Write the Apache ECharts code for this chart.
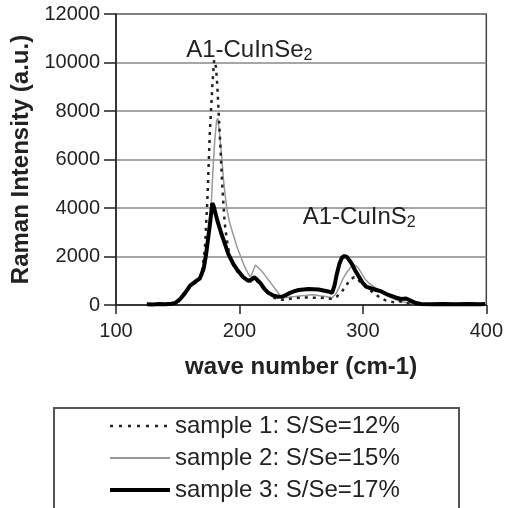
<!DOCTYPE html>
<html>
<head>
<meta charset="utf-8">
<script src="https://cdn.jsdelivr.net/npm/echarts@6/dist/echarts.min.js"></script>
<style>
html,body{margin:0;padding:0;background:#fff;}
#chart{width:506px;height:508px;}
</style>
</head>
<body>
<div id="chart"></div>
<script>
// ---- data ----
var seriesNames = ['sample 1: S/Se=12%', 'sample 2: S/Se=15%', 'sample 3: S/Se=17%'];
var xTicks = [100, 200, 300, 400];
var yTicks = [0, 2000, 4000, 6000, 8000, 10000, 12000];
var annotations = [
  {main: 'A1-CuInSe', sub: '2', x: 208, y: 10500},
  {main: 'A1-CuInS', sub: '2', x: 297, y: 3600}
];

var s1Wave = [125,135,145,150,155,160,165,168,170,172,174,176,178,179.5,181,182,184,186,188,189.5,192,195,198,202,206,210,214,218,222,226,230,235,240,245,250,255,260,265,270,275,279,283,287,290,293,296,299,302,306,310,314,318,322,326,330,334,340,350,370,399];
var s1Int  = [30,30,40,100,400,750,950,1100,1500,2300,4300,7100,9000,10100,9800,9100,7100,5000,3400,2800,2000,1650,1400,1200,1050,950,1000,800,550,350,250,220,250,280,300,310,300,300,280,250,350,550,850,1050,1150,1050,900,750,600,450,300,200,150,100,150,80,40,30,20,20];

var s2Wave = [125,135,145,150,155,160,165,170,173,175,177,178.5,180,181.5,182.5,184,185.5,187,188.5,190,192,195,198,201,204,207,209,211,213,215,218,221,224,227,230,233,237,241,245,250,255,260,265,270,275,278,281,284,287,290,293,296,299,302,305,309,313,317,321,325,330,335,340,350,360,380,399];
var s2Int  = [30,30,50,150,450,750,950,1200,1800,2700,4000,5500,6800,7600,7700,7000,6200,5200,4500,3900,3400,2900,2400,2000,1600,1300,1150,1400,1650,1550,1400,1200,1000,800,600,380,300,330,350,380,400,420,380,350,300,450,750,1100,1350,1550,1650,1550,1300,1050,900,750,600,480,350,250,150,100,60,30,20,30,20];

var s3Wave = [125,130,135,140,145,148,152,156,160,164,168,171,173,175,176.5,178,179,180,182,185,188,191,195,199,203,207,210,212,214,217,220,223,227,231,235,238,241,244,248,252,256,260,264,268,272,275,277,279,281,283,285,287,289,291,294,297,300,303,307,311,315,319,323,327,331,335,339,343,347,355,365,375,385,395,399];
var s3Int  = [30,20,40,30,50,80,250,500,800,950,1100,1500,2100,2900,3500,4200,4100,3900,3500,3000,2550,2100,1700,1400,1150,1000,1050,1150,1050,900,680,520,400,340,350,420,500,560,620,640,660,650,640,600,560,500,800,1300,1700,1950,2020,1980,1850,1700,1400,1150,900,750,680,620,560,450,380,300,250,270,170,80,40,30,40,30,40,30,40];

function zip(xs, ys) { return xs.map(function (x, i) { return [x, ys[i]]; }); }

var FONT = '"Liberation Sans", Arial, sans-serif';
var chart = echarts.init(document.getElementById('chart'), null, {renderer: 'canvas'});

var lineStyles = [
  {color: '#222', width: 2.5, type: [3, 5]},
  {color: '#999', width: 1.5},
  {color: '#000', width: 4}
];

var annLabel = {
  show: true,
  position: 'inside',
  formatter: function (p) { return p.name; },
  color: '#222',
  fontFamily: FONT,
  rich: {
    m: {fontSize: 24, fontFamily: FONT, color: '#222', lineHeight: 30},
    s: {fontSize: 16, fontFamily: FONT, color: '#222', lineHeight: 30, padding: [10, 0, 0, 0]}
  }
};

chart.setOption({
  animation: false,
  backgroundColor: '#fff',
  textStyle: {fontFamily: FONT},
  grid: {left: 116, right: 18, top: 14, bottom: 203, show: true, borderColor: '#444', borderWidth: 1.5, containLabel: false},
  graphic: [{
    type: 'rect', left: 53, top: 407, z: -1,
    shape: {width: 405, height: 130},
    style: {fill: '#fff', stroke: '#555', lineWidth: 2}
  }],
  xAxis: {
    type: 'value', min: xTicks[0], max: xTicks[xTicks.length - 1], interval: 100,
    name: 'wave number (cm-1)', nameLocation: 'middle', nameGap: 50,
    nameTextStyle: {fontSize: 24, fontWeight: 'bold', color: '#222', fontFamily: FONT},
    axisLine: {show: true, onZero: false, lineStyle: {color: '#222', width: 1.5}},
    axisTick: {show: true, inside: false, length: 9, lineStyle: {color: '#222', width: 1.5}},
    axisLabel: {fontSize: 20, color: '#222', margin: 16, fontFamily: FONT, formatter: function (v) { return String(v); }},
    splitLine: {show: false}
  },
  yAxis: {
    type: 'value', min: yTicks[0], max: yTicks[yTicks.length - 1], interval: 2000,
    name: 'Raman Intensity (a.u.)', nameLocation: 'middle', nameGap: 78, nameRotate: 90,
    nameTextStyle: {fontSize: 24, fontWeight: 'bold', color: '#222', fontFamily: FONT},
    axisLine: {show: true, lineStyle: {color: '#222', width: 1.5}},
    axisTick: {show: true, inside: false, length: 12, lineStyle: {color: '#222', width: 1.5}},
    axisLabel: {fontSize: 20, color: '#222', margin: 16, fontFamily: FONT, formatter: function (v) { return String(v); }},
    splitLine: {show: true, lineStyle: {color: '#888', width: 1.5}}
  },
  legend: {
    orient: 'vertical', left: 53, top: 407,
    data: [
      {name: seriesNames[0], lineStyle: {color: '#222', width: 2.5, type: [3, 6]}},
      {name: seriesNames[1], lineStyle: {color: '#999', width: 2}},
      {name: seriesNames[2], lineStyle: {color: '#000', width: 4}}
    ],
    itemWidth: 60, itemHeight: 24, itemGap: 8,
    padding: [7, 60, 0, 55],
    textStyle: {fontSize: 24, color: '#222', fontFamily: FONT},
    itemStyle: {opacity: 0},
    selectedMode: false
  },
  series: [
    {
      name: seriesNames[0], type: 'line', data: zip(s1Wave, s1Int),
      symbol: 'none', z: 3,
      lineStyle: lineStyles[0],
      itemStyle: {color: '#222'},
      markPoint: {
        symbol: 'circle', symbolSize: 1, silent: true,
        itemStyle: {color: 'rgba(0,0,0,0)'},
        label: annLabel,
        data: annotations.map(function (a) {
          return {name: '{m|' + a.main + '}{s|' + a.sub + '}', coord: [a.x, a.y]};
        })
      }
    },
    {
      name: seriesNames[1], type: 'line', data: zip(s2Wave, s2Int),
      symbol: 'none', z: 2,
      lineStyle: lineStyles[1],
      itemStyle: {color: '#999'}
    },
    {
      name: seriesNames[2], type: 'line', data: zip(s3Wave, s3Int),
      symbol: 'none', z: 4,
      lineStyle: lineStyles[2],
      itemStyle: {color: '#000'}
    }
  ]
});
</script>
</body>
</html>
